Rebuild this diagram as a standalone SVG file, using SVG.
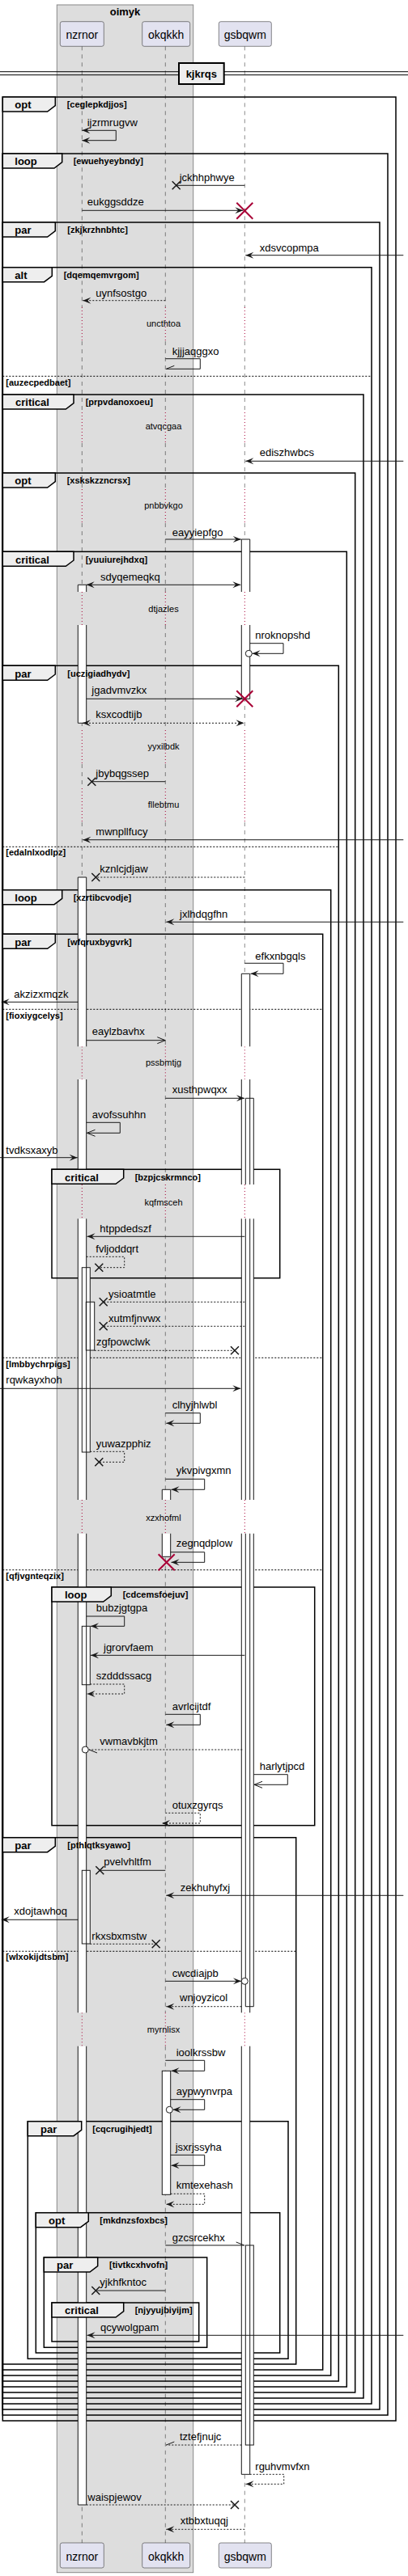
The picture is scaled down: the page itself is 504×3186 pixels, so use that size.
<svg xmlns="http://www.w3.org/2000/svg" width="504" height="3186" viewBox="0 0 504 3186">
<style>
text{font-family:"Liberation Sans",Arial,sans-serif;fill:#000}
.t13{font-size:13px}
.t14{font-size:14px}
.t11{font-size:11px}
.gb{font-size:11px;font-weight:bold}
.lb{font-size:13px;font-weight:bold}
.mid{text-anchor:middle}
.m{fill:none;stroke:#181818;stroke-width:1}
.d{stroke-dasharray:2,2}
.fr{fill:none;stroke:#000;stroke-width:1.5}
.tab{fill:#EEEEEE;stroke:#000;stroke-width:1.5}
.els{stroke:#000;stroke-width:1;stroke-dasharray:2,2}
.ll{fill:none;stroke:#181818;stroke-width:0.5;stroke-dasharray:5,5}
.dl{fill:none;stroke:#A80036;stroke-width:1;stroke-dasharray:1,3}
.af{fill:#fff;stroke:none}
.as{fill:none;stroke:#181818;stroke-width:1}
.x{fill:none;stroke:#181818;stroke-width:1.5}
.rx{fill:none;stroke:#A80036;stroke-width:2}
.cir{fill:#fff;stroke:#181818;stroke-width:1}
.pb{fill:#E2E2F0;stroke:#181818;stroke-width:0.5}
</style>
<defs>
<marker id="af" viewBox="0 0 11 8" refX="10" refY="4" markerWidth="11" markerHeight="8" markerUnits="userSpaceOnUse" orient="auto-start-reverse" overflow="visible"><path d="M0,0 L10,4 L0,8 L4,4 Z" fill="#181818"/></marker>
<marker id="ao" viewBox="0 0 11 8" refX="10" refY="4" markerWidth="11" markerHeight="8" markerUnits="userSpaceOnUse" orient="auto" overflow="visible"><path d="M0,0 L10,4 L0,8" fill="none" stroke="#181818" stroke-width="1"/></marker>
<marker id="hu" viewBox="0 0 11 8" refX="10" refY="4" markerWidth="11" markerHeight="8" markerUnits="userSpaceOnUse" orient="auto" overflow="visible"><path d="M0,0 L10,4" fill="none" stroke="#181818" stroke-width="1"/></marker>
<marker id="hd" viewBox="0 0 11 8" refX="10" refY="4" markerWidth="11" markerHeight="8" markerUnits="userSpaceOnUse" orient="auto" overflow="visible"><path d="M0,8 L10,4" fill="none" stroke="#181818" stroke-width="1"/></marker>
<path id="lx" d="M-5,-5 L5,5 M-5,5 L5,-5"/>
<path id="dx" d="M-10,-10 L10,10 M-10,10 L10,-10"/>
</defs>
<rect width="504" height="3186" fill="#fff"/>

<g id="box-oimyk">
<rect x="70.3" y="6" width="168.4" height="3175.7" fill="#DDDDDD" stroke="#888888" stroke-width="1"/>
<text class="lb mid" x="154.5" y="18.5">oimyk</text>
</g>

<g id="lifelines">
<path class="ll" d="M101.3,57.3V380M101.3,422V510M101.3,548V605M101.3,647V732M101.3,773V903M101.3,945V975M101.3,1017V1294.3M101.3,1335V1465M101.3,1507.3V1855M101.3,1896.7V2489.3M101.3,2530.7V3145"/>
<path class="ll" d="M204.3,57.3V380M204.3,422V510M204.3,548V605M204.3,647V732M204.3,773V903M204.3,945V975M204.3,1017V1294.3M204.3,1335V1465M204.3,1507.3V1855M204.3,1896.7V2489.3M204.3,2530.7V3145"/>
<path class="ll" d="M302.3,57.3V380M302.3,422V510M302.3,548V605M302.3,647V732M302.3,773V903M302.3,1017V1294.3M302.3,1335V1465M302.3,1507.3V1855M302.3,1896.7V2489.3M302.3,2530.7V3145"/>
<path class="dl" d="M101.3,380V422M101.3,510V548M101.3,605V647M101.3,732V773M101.3,903V945M101.3,975V1017M101.3,1294.3V1335M101.3,1465V1507.3M101.3,1855V1896.7M101.3,2489.3V2530.7"/>
<path class="dl" d="M204.3,380V422M204.3,510V548M204.3,605V647M204.3,732V773M204.3,903V945M204.3,975V1017M204.3,1294.3V1335M204.3,1465V1507.3M204.3,1855V1896.7M204.3,2489.3V2530.7"/>
<path class="dl" d="M302.3,380V422M302.3,510V548M302.3,605V647M302.3,732V773M302.3,903V1017M302.3,1294.3V1335M302.3,1465V1507.3M302.3,1855V1896.7M302.3,2489.3V2530.7"/>
</g>

<g id="p-nzrnor">
<rect class="pb" x="74.3" y="26.7" width="54" height="30.6" rx="2.5"/>
<text class="t14 mid" x="101.3" y="47.5">nzrnor</text>
<rect class="pb" x="74.3" y="3145" width="54" height="31" rx="2.5"/>
<text class="t14 mid" x="101.3" y="3166.5">nzrnor</text>
</g>
<g id="p-okqkkh">
<rect class="pb" x="175.7" y="26.7" width="59" height="30.6" rx="2.5"/>
<text class="t14 mid" x="205.2" y="47.5">okqkkh</text>
<rect class="pb" x="175.7" y="3145" width="59" height="31" rx="2.5"/>
<text class="t14 mid" x="205.2" y="3166.5">okqkkh</text>
</g>
<g id="p-gsbqwm">
<rect class="pb" x="270.3" y="26.7" width="65" height="30.6" rx="2.5"/>
<text class="t14 mid" x="302.8" y="47.5">gsbqwm</text>
<rect class="pb" x="270.3" y="3145" width="65" height="31" rx="2.5"/>
<text class="t14 mid" x="302.8" y="3166.5">gsbqwm</text>
</g>

<g id="divider-kjkrqs">
<path d="M0,88.7H504M0,92.7H504" stroke="#000" stroke-width="1" fill="none"/>
<rect x="221" y="78" width="55.7" height="26" fill="#EEEEEE" stroke="#000" stroke-width="2"/>
<text class="lb mid" x="248.8" y="96">kjkrqs</text>
</g>

<g id="frames">
<rect class="fr" x="3.3" y="120" width="485.7" height="2874"/>
<rect class="fr" x="3.3" y="190" width="475.7" height="2797"/>
<rect class="fr" x="3.3" y="275" width="465.7" height="2705"/>
<rect class="fr" x="3.3" y="330.7" width="455.7" height="2642.3"/>
<rect class="fr" x="3.3" y="488" width="445.7" height="2478"/>
<rect class="fr" x="3.3" y="585" width="435.4" height="2374"/>
<rect class="fr" x="3.3" y="682.3" width="425" height="2269.7"/>
<rect class="fr" x="3.3" y="823.3" width="415" height="2121.7"/>
<rect class="fr" x="3.3" y="1100.7" width="405.4" height="1837.3"/>
<rect class="fr" x="3.3" y="1155.3" width="395.4" height="1775.7"/>
<rect class="fr" x="64" y="1446.3" width="281.7" height="134.4"/>
<rect class="fr" x="64" y="1963" width="324.7" height="294.7"/>
<rect class="fr" x="3.3" y="2272.7" width="362.4" height="651.3"/>
<rect class="fr" x="34.3" y="2623.7" width="321.7" height="293.6"/>
<rect class="fr" x="44.3" y="2736.7" width="301.4" height="173.3"/>
<rect class="fr" x="54.3" y="2792" width="201.4" height="111.3"/>
<rect class="fr" x="64" y="2848" width="181.7" height="48"/>
<path class="els" d="M3.3,465.3H459M3.3,1047.3H418.3M3.3,1248.3H398.7M3.3,1679.3H398.7M3.3,1941.7H398.7M3.3,2413.3H365.7"/>
<text class="gb" x="7.3" y="476.7">[auzecpedbaet]</text>
<text class="gb" x="7.3" y="1058.3">[edalnlxodlpz]</text>
<text class="gb" x="7.3" y="1260">[fioxiygcelys]</text>
<text class="gb" x="7.3" y="1690.7">[lmbbychrpigs]</text>
<text class="gb" x="7.3" y="1952.7">[qfjvgnteqzix]</text>
<text class="gb" x="7.3" y="2424.3">[wlxokijdtsbm]</text>
</g>

<g id="activations">
<rect class="af" x="96.3" y="723.3" width="10.4" height="8.7"/>
<rect class="af" x="96.3" y="773" width="10.4" height="121.3"/>
<rect class="af" x="298.3" y="667" width="10.4" height="65"/>
<rect class="af" x="298.3" y="773" width="10.4" height="91.3"/>
<rect class="af" x="96.3" y="1085" width="10.4" height="209.3"/>
<rect class="af" x="96.3" y="1335" width="10.4" height="130"/>
<rect class="af" x="96.3" y="1507.3" width="10.4" height="347.7"/>
<rect class="af" x="96.3" y="1896.7" width="10.4" height="592.6"/>
<rect class="af" x="96.3" y="2530.7" width="10.4" height="567.3"/>
<rect class="af" x="298.3" y="1204.3" width="10.4" height="90"/>
<rect class="af" x="298.3" y="1335" width="10.4" height="130"/>
<rect class="af" x="298.3" y="1507.3" width="10.4" height="347.7"/>
<rect class="af" x="298.3" y="1896.7" width="10.4" height="592.6"/>
<rect class="af" x="298.3" y="2530.7" width="10.4" height="529.6"/>
<rect class="af" x="303.3" y="1358.3" width="10" height="106.7"/>
<rect class="af" x="303.3" y="1507.3" width="10" height="347.7"/>
<rect class="af" x="303.3" y="1896.7" width="10" height="585"/>
<rect class="af" x="101.3" y="1567.7" width="10" height="228.3"/>
<rect class="af" x="106.3" y="1610.3" width="10.4" height="59.7"/>
<rect class="af" x="200.3" y="1842.3" width="10.4" height="12.7"/>
<rect class="af" x="200.3" y="1896.7" width="10.4" height="28.6"/>
<rect class="af" x="101.3" y="2011.3" width="10" height="72.4"/>
<rect class="af" x="101.3" y="2313.3" width="10" height="90.7"/>
<rect class="af" x="200.3" y="2561.3" width="10.4" height="153"/>
<rect class="af" x="303.3" y="2777" width="10" height="247"/>
<path class="as" d="M96.3,723.3H106.7M96.3,723.3V732M106.7,723.3V732M96.3,773V894.3H106.7V773"/>
<path class="as" d="M298.3,667H308.7M298.3,667V732M308.7,667V732M298.3,773V864.3H308.7V773"/>
<path class="as" d="M96.3,1085H106.7M96.3,1085V1294.3M106.7,1085V1294.3M96.3,1335V1465M106.7,1335V1465M96.3,1507.3V1855M106.7,1507.3V1855M96.3,1896.7V2489.3M106.7,1896.7V2489.3M96.3,2530.7V3098H106.7V2530.7"/>
<path class="as" d="M298.3,1204.3H308.7M298.3,1204.3V1294.3M308.7,1204.3V1294.3M298.3,1335V1465M308.7,1335V1465M298.3,1507.3V1855M308.7,1507.3V1855M298.3,1896.7V2489.3M308.7,1896.7V2489.3M298.3,2530.7V3060.3H308.7V2530.7"/>
<path class="as" d="M303.3,1358.3H313.3M303.3,1358.3V1465M313.3,1358.3V1465M303.3,1507.3V1855M313.3,1507.3V1855M303.3,1896.7V2481.7H313.3V1896.7"/>
<path class="as" d="M200.3,1842.3H210.7M200.3,1842.3V1855M210.7,1842.3V1855M200.3,1896.7V1925.3H210.7V1896.7"/>
<rect class="as" x="101.3" y="1567.7" width="10" height="228.3"/>
<rect class="as" x="106.3" y="1610.3" width="10.4" height="59.7"/>
<rect class="as" x="101.3" y="2011.3" width="10" height="72.4"/>
<rect class="as" x="101.3" y="2313.3" width="10" height="90.7"/>
<rect class="as" x="200.3" y="2561.3" width="10.4" height="153"/>
<rect class="as" x="303.3" y="2777" width="10" height="247"/>
</g>

<g id="frame-tabs">
<g id="f-opt-ceglepkdjjos"><polygon class="tab" points="3.3,120 68.3,120 68.3,130.7 58.6,138 3.3,138"/><text class="lb" x="18.3" y="134.3">opt</text><text class="gb" x="82.7" y="133.3">[ceglepkdjjos]</text></g>
<g id="f-loop-ewuehyeybndy"><polygon class="tab" points="3.3,190 76.7,190 76.7,200.7 67,208 3.3,208"/><text class="lb" x="18.3" y="204.3">loop</text><text class="gb" x="90.7" y="203.3">[ewuehyeybndy]</text></g>
<g id="f-par-zkjkrzhnbhtc"><polygon class="tab" points="3.3,275 68.3,275 68.3,285.7 58.6,293 3.3,293"/><text class="lb" x="18.3" y="289.3">par</text><text class="gb" x="83.3" y="288.3">[zkjkrzhnbhtc]</text></g>
<g id="f-alt-dqemqemvrgom"><polygon class="tab" points="3.3,330.7 64.3,330.7 64.3,341.4 54.6,348.7 3.3,348.7"/><text class="lb" x="18.3" y="345">alt</text><text class="gb" x="78.7" y="344">[dqemqemvrgom]</text></g>
<g id="f-critical-prpvdanoxoeu"><polygon class="tab" points="3.3,488 91,488 91,498.7 81.3,506 3.3,506"/><text class="lb" x="19" y="502.3">critical</text><text class="gb" x="105.7" y="501.3">[prpvdanoxoeu]</text></g>
<g id="f-opt-xskskzzncrsx"><polygon class="tab" points="3.3,585 68.3,585 68.3,595.7 58.6,603 3.3,603"/><text class="lb" x="18.3" y="599.3">opt</text><text class="gb" x="82.7" y="598.3">[xskskzzncrsx]</text></g>
<g id="f-critical-yuuiurejhdxq"><polygon class="tab" points="3.3,682.3 91,682.3 91,693 81.3,700.3 3.3,700.3"/><text class="lb" x="19" y="696.6">critical</text><text class="gb" x="105.7" y="695.6">[yuuiurejhdxq]</text></g>
<g id="f-par-uczigiadhydv"><polygon class="tab" points="3.3,823.3 68.3,823.3 68.3,834 58.6,841.3 3.3,841.3"/><text class="lb" x="18.3" y="837.6">par</text><text class="gb" x="83.3" y="836.6">[uczigiadhydv]</text></g>
<g id="f-loop-xzrtibcvodje"><polygon class="tab" points="3.3,1100.7 76.7,1100.7 76.7,1111.4 67,1118.7 3.3,1118.7"/><text class="lb" x="18.3" y="1115">loop</text><text class="gb" x="90.7" y="1114">[xzrtibcvodje]</text></g>
<g id="f-par-wfqruxbygvrk"><polygon class="tab" points="3.3,1155.3 68.3,1155.3 68.3,1166 58.6,1173.3 3.3,1173.3"/><text class="lb" x="18.3" y="1169.6">par</text><text class="gb" x="83.3" y="1168.6">[wfqruxbygvrk]</text></g>
<g id="f-critical-bzpjcskrmnco"><polygon class="tab" points="64,1446.3 152.7,1446.3 152.7,1457 143,1464.3 64,1464.3"/><text class="lb" x="80" y="1460.6">critical</text><text class="gb" x="166.7" y="1459.6">[bzpjcskrmnco]</text></g>
<g id="f-loop-cdcemsfoejuv"><polygon class="tab" points="64,1963 137.3,1963 137.3,1973.7 127.6,1981 64,1981"/><text class="lb" x="80" y="1977.3">loop</text><text class="gb" x="151.7" y="1976.3">[cdcemsfoejuv]</text></g>
<g id="f-par-pthlqtksyawo"><polygon class="tab" points="3.3,2272.7 68.3,2272.7 68.3,2283.4 58.6,2290.7 3.3,2290.7"/><text class="lb" x="18.3" y="2287">par</text><text class="gb" x="83.3" y="2286">[pthlqtksyawo]</text></g>
<g id="f-par-cqcrugihjedt"><polygon class="tab" points="34.3,2623.7 100.7,2623.7 100.7,2634.4 91,2641.7 34.3,2641.7"/><text class="lb" x="50" y="2638">par</text><text class="gb" x="114.3" y="2637">[cqcrugihjedt]</text></g>
<g id="f-opt-mkdnzsfoxbcs"><polygon class="tab" points="44.3,2736.7 109.3,2736.7 109.3,2747.4 99.6,2754.7 44.3,2754.7"/><text class="lb" x="60" y="2751">opt</text><text class="gb" x="123.3" y="2750">[mkdnzsfoxbcs]</text></g>
<g id="f-par-tivtkcxhvofn"><polygon class="tab" points="54.3,2792 120.7,2792 120.7,2802.7 111,2810 54.3,2810"/><text class="lb" x="70" y="2806.3">par</text><text class="gb" x="135" y="2805.3">[tivtkcxhvofn]</text></g>
<g id="f-critical-njyyujbiyijm"><polygon class="tab" points="64,2848 152.7,2848 152.7,2858.7 143,2866 64,2866"/><text class="lb" x="80" y="2862.3">critical</text><text class="gb" x="166.7" y="2861.3">[njyyujbiyijm]</text></g>
</g>

<g id="delays">
<text class="t11 mid" x="202" y="404.3">uncthtoa</text>
<text class="t11 mid" x="202" y="530.7">atvqcgaa</text>
<text class="t11 mid" x="202" y="628.7">pnbbvkgo</text>
<text class="t11 mid" x="202" y="756.7">dtjazles</text>
<text class="t11 mid" x="202" y="927.3">yyxilbdk</text>
<text class="t11 mid" x="202" y="999">fllebtmu</text>
<text class="t11 mid" x="202" y="1318.3">pssbmtjg</text>
<text class="t11 mid" x="202" y="1490.7">kqfmsceh</text>
<text class="t11 mid" x="202" y="1880.7">xzxhofml</text>
<text class="t11 mid" x="202" y="2514.3">myrnlisx</text>
</g>

<g id="connectors">
<path class="m" d="M101.3,161.3H143.3V173.7H101.3" marker-start="url(#af)" marker-end="url(#af)"/>
<text class="t13" x="107.7" y="156">ijzrmrugvw</text>
<path class="m" d="M302.3,229.3H217.7"/><use href="#lx" x="217.7" y="229.3" class="x"/>
<text class="t13" x="221.7" y="224.3">jckhhphwye</text>
<path class="m" d="M101.3,260.3H300.3" marker-end="url(#af)"/><use href="#dx" x="302.3" y="260.7" class="rx"/>
<text class="t13" x="107.7" y="254.3">eukggsddze</text>
<path class="m" d="M498.3,315.7H303.3" marker-end="url(#af)"/>
<text class="t13" x="320.7" y="310.7">xdsvcopmpa</text>
<path class="m d" d="M204.3,371.7H102.3" marker-end="url(#af)"/>
<text class="t13" x="118.3" y="366.7">uynfsostgo</text>
<path class="m" d="M204.3,443.7H247.3V456.3H205.3" marker-end="url(#hd)"/>
<text class="t13" x="212.7" y="438.7">kjjjaqggxo</text>
<path class="m" d="M498.3,570.3H303.3" marker-end="url(#af)"/>
<text class="t13" x="320.7" y="564.3">ediszhwbcs</text>
<path class="m" d="M204.3,667H297.8" marker-end="url(#af)"/>
<text class="t13" x="212.7" y="662.7">eayyiepfgo</text>
<path class="m" d="M106.7,723.3H297.3" marker-start="url(#af)" marker-end="url(#af)"/>
<text class="t13" x="124" y="717.7">sdyqemeqkq</text>
<path class="m" d="M308.7,795.7H350V808.3H311.5" marker-end="url(#af)"/><circle class="cir" cx="307.3" cy="808.3" r="4"/>
<text class="t13" x="315.3" y="790">nroknopshd</text>
<path class="m" d="M106.7,864.3H300" marker-end="url(#af)"/><use href="#dx" x="302.3" y="864.3" class="rx"/>
<text class="t13" x="113.3" y="858.3">jgadvmvzkx</text>
<path class="m d" d="M102,894.3H301.5" marker-start="url(#af)" marker-end="url(#af)"/>
<text class="t13" x="118.3" y="888.3">ksxcodtijb</text>
<path class="m" d="M204.3,966.7H113.3"/><use href="#lx" x="113.3" y="966.7" class="x"/>
<text class="t13" x="118.3" y="961">jbybqgssep</text>
<path class="m" d="M498.3,1038.7H102.3" marker-end="url(#af)"/>
<text class="t13" x="118.3" y="1032.7">mwnpllfucy</text>
<path class="m d" d="M302.3,1085H118.3"/><use href="#lx" x="118.3" y="1085" class="x"/>
<text class="t13" x="123.3" y="1079">kznlcjdjaw</text>
<path class="m" d="M498.3,1140.3H205.3" marker-end="url(#af)"/>
<text class="t13" x="222" y="1135">jxlhdqgfhn</text>
<path class="m" d="M302.3,1191.3H350V1204.3H309.5" marker-end="url(#af)"/>
<text class="t13" x="315.3" y="1186.7">efkxnbgqls</text>
<path class="m" d="M96.3,1239.3H1.7" marker-end="url(#af)"/>
<text class="t13" x="17.3" y="1234.3">akzizxmqzk</text>
<path class="m" d="M106.7,1286.7H204.3" marker-end="url(#ao)"/>
<text class="t13" x="113.7" y="1280">eaylzbavhx</text>
<path class="m" d="M204.3,1358.3H302" marker-end="url(#af)"/>
<text class="t13" x="212.7" y="1352.3">xusthpwqxx</text>
<path class="m" d="M106.7,1388.3H148.3V1401.3H107.5" marker-end="url(#ao)"/>
<text class="t13" x="113.7" y="1382.7">avofssuhhn</text>
<path class="m" d="M0,1431.7H95.7" marker-end="url(#af)"/>
<text class="t13" x="7.3" y="1426.7">tvdksxaxyb</text>
<path class="m" d="M302.3,1529.3H107.5" marker-end="url(#af)"/>
<text class="t13" x="123.3" y="1524">htppdedszf</text>
<path class="m d" d="M106.7,1554.3H153.7V1567.7H122.3"/><use href="#lx" x="122.3" y="1567.7" class="x"/>
<text class="t13" x="118.3" y="1549.3">fvljoddqrt</text>
<path class="m d" d="M302.3,1610.3H127.7"/><use href="#lx" x="127.7" y="1610.3" class="x"/>
<text class="t13" x="134" y="1604.7">ysioatmtle</text>
<path class="m d" d="M302.3,1640.3H127.7"/><use href="#lx" x="127.7" y="1640.3" class="x"/>
<text class="t13" x="134" y="1635">xutmfjnvwx</text>
<path class="m d" d="M116.7,1670.3H290"/><use href="#lx" x="290" y="1670.3" class="x"/>
<text class="t13" x="119" y="1664.3">zgfpowclwk</text>
<path class="m" d="M0,1717.3H297.3" marker-end="url(#af)"/>
<text class="t13" x="7.3" y="1711.3">rqwkayxhoh</text>
<path class="m" d="M204.3,1747.7H247.3V1760.3H205.3" marker-end="url(#af)"/>
<text class="t13" x="212.7" y="1742.3">clhyjhlwbl</text>
<path class="m d" d="M111.3,1795.3H153.7V1808.3H122.3"/><use href="#lx" x="122.3" y="1808.3" class="x"/>
<text class="t13" x="118.7" y="1790">yuwazpphiz</text>
<path class="m" d="M204.3,1829.3H252.7V1842.3H211.5" marker-end="url(#af)"/>
<text class="t13" x="217.7" y="1823.3">ykvpivgxmn</text>
<path class="m" d="M210.7,1919.7H252.7V1932.3H211.5" marker-end="url(#af)"/><use href="#dx" x="205.7" y="1932.3" class="rx"/>
<text class="t13" x="217.7" y="1913.3">zegnqdplow</text>
<path class="m" d="M106.7,1999H153.7V2011.3H112" marker-end="url(#af)"/>
<text class="t13" x="118.7" y="1993.3">bubzjgtgpa</text>
<path class="m" d="M302.3,2047.3H112" marker-end="url(#af)"/>
<text class="t13" x="128" y="2041.7">jgrorvfaem</text>
<path class="m d" d="M111.3,2083H153.7V2095H107.5" marker-end="url(#af)"/>
<text class="t13" x="118.7" y="2077.3">szdddssacg</text>
<path class="m" d="M204.3,2120.3H247.3V2133.3H205.3" marker-end="url(#af)"/>
<text class="t13" x="212.7" y="2115">avrlcijtdf</text>
<path class="m d" d="M299.3,2164H110" marker-end="url(#hu)"/><circle class="cir" cx="105.3" cy="2164" r="4"/>
<text class="t13" x="123.3" y="2157.7">vwmavbkjtm</text>
<path class="m" d="M313.3,2194.7H355.3V2207.3H314" marker-end="url(#ao)"/>
<text class="t13" x="320.7" y="2189">harlytjpcd</text>
<path class="m d" d="M204.3,2242.3H247.3V2255H200" marker-end="url(#af)"/>
<text class="t13" x="212.7" y="2237.3">otuxzgyrqs</text>
<path class="m" d="M204.3,2313.3H123.3"/><use href="#lx" x="123.3" y="2313.3" class="x"/>
<text class="t13" x="128.3" y="2307.3">pvelvhltfm</text>
<path class="m" d="M498.3,2344.3H205.3" marker-end="url(#af)"/>
<text class="t13" x="222.7" y="2339">zekhuhyfxj</text>
<path class="m" d="M96.3,2374.3H1.7" marker-end="url(#af)"/>
<text class="t13" x="17.3" y="2368.3">xdojtawhoq</text>
<path class="m d" d="M111.3,2404.3H192.7"/><use href="#lx" x="192.7" y="2404.3" class="x"/>
<text class="t13" x="113.3" y="2399">rkxsbxmstw</text>
<path class="m" d="M204.3,2450.3H298" marker-end="url(#af)"/><circle class="cir" cx="302.3" cy="2450.3" r="4"/>
<text class="t13" x="212.7" y="2445">cwcdiajpb</text>
<path class="m d" d="M298.3,2481.7H205.3" marker-end="url(#af)"/>
<text class="t13" x="222" y="2475">wnjoyzicol</text>
<path class="m" d="M204.3,2548.3H252.7V2561.3H211.5" marker-end="url(#af)"/>
<text class="t13" x="217.7" y="2543.3">ioolkrssbw</text>
<path class="m" d="M210.7,2596.7H252.7V2609.3H213.5" marker-end="url(#af)"/><circle class="cir" cx="209.3" cy="2609.3" r="4"/>
<text class="t13" x="217.7" y="2591">aypwynvrpa</text>
<path class="m" d="M210.7,2665.3H252.7V2678.3H211.5" marker-end="url(#af)"/>
<text class="t13" x="216.7" y="2660">jsxrjssyha</text>
<path class="m d" d="M210.7,2713.3H252.7V2726.3H205.3" marker-end="url(#af)"/>
<text class="t13" x="217.7" y="2707.3">kmtexehash</text>
<path class="m" d="M204.3,2777H301.7" marker-end="url(#hu)"/>
<text class="t13" x="212.7" y="2771.7">gzcsrcekhx</text>
<path class="m" d="M204.3,2833H118.3"/><use href="#lx" x="118.3" y="2833" class="x"/>
<text class="t13" x="123.3" y="2827.3">yjkhfkntoc</text>
<path class="m" d="M498.3,2888.3H107.5" marker-end="url(#af)"/>
<text class="t13" x="124" y="2882.7">qcywolgpam</text>
<path class="m d" d="M298.3,3024H205.3" marker-end="url(#hd)"/>
<text class="t13" x="222" y="3018.3">tztefjnujc</text>
<path class="m d" d="M308.7,3060.3H350.7V3072.3H303.5" marker-end="url(#af)"/>
<text class="t13" x="315.3" y="3055">rguhvmvfxn</text>
<path class="m d" d="M106.7,3098H290"/><use href="#lx" x="290" y="3098" class="x"/>
<text class="t13" x="108.3" y="3092.7">waispjewov</text>
<path class="m d" d="M302.3,3128.3H205.3" marker-end="url(#af)"/>
<text class="t13" x="222.7" y="3122.3">xtbbxtuqqj</text>
</g>
</svg>
